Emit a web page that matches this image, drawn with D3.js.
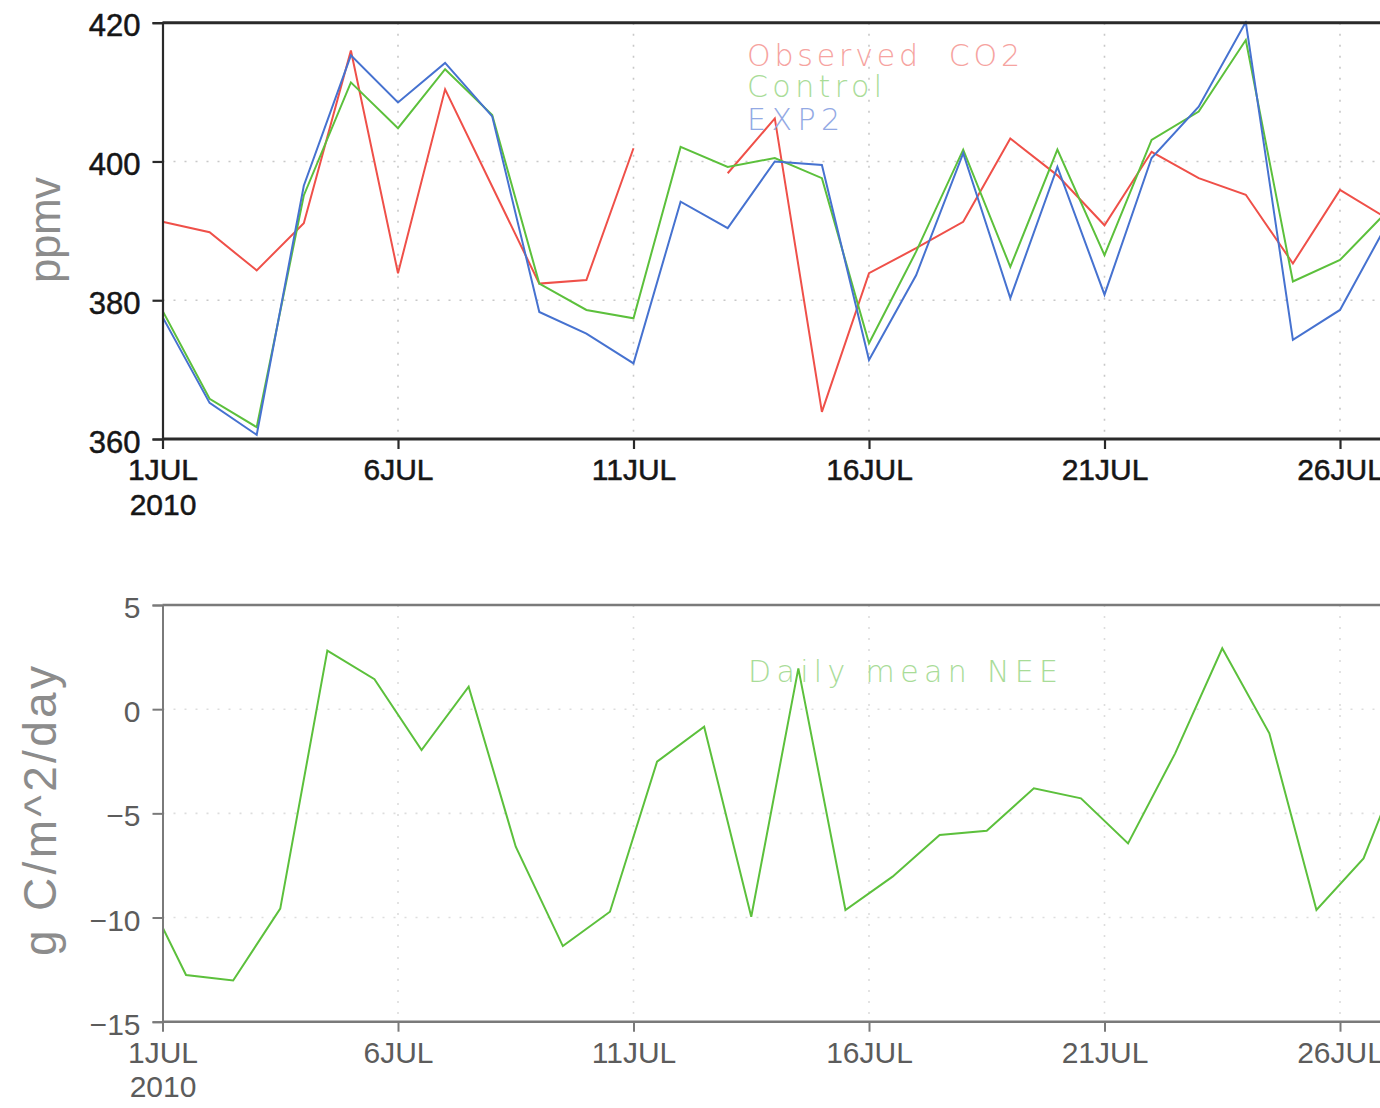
<!DOCTYPE html>
<html>
<head>
<meta charset="utf-8">
<script src="https://cdn.jsdelivr.net/npm/d3@7"></script>
<style>
  html, body { margin: 0; padding: 0; background: #fff; }
  svg { display: block; font-family: "Liberation Sans", Arial, Helvetica, sans-serif; }
</style>
</head>
<body>
<svg id="chart" width="1380" height="1108"></svg>
<script>
// ---------------- data ----------------
const dates = ["2010-07-01","2010-07-02","2010-07-03","2010-07-04","2010-07-05","2010-07-06","2010-07-07",
  "2010-07-08","2010-07-09","2010-07-10","2010-07-11","2010-07-12","2010-07-13","2010-07-14","2010-07-15",
  "2010-07-16","2010-07-17","2010-07-18","2010-07-19","2010-07-20","2010-07-21","2010-07-22","2010-07-23",
  "2010-07-24","2010-07-25","2010-07-26","2010-07-27"];
const observedCO2 = [391.3, 389.8, 384.3, 391.1, 416.0, 383.9, 410.4, 396.4, 382.4, 382.9, 401.9, null, 398.3,
  406.2, 363.9, 383.9, 387.5, 391.3, 403.3, 398.0, 390.8, 401.4, 397.6, 395.2, 385.3, 395.9, 391.8];
const controlCO2 = [378.5, 365.8, 361.7, 395.1, 411.4, 404.8, 413.3, 406.7, 382.4, 378.6, 377.4, 402.1, 399.2,
  400.5, 397.6, 373.8, 387.0, 401.7, 384.8, 401.7, 386.5, 403.1, 407.2, 417.5, 382.7, 385.8, 392.8];
const exp2CO2 = [377.6, 365.2, 360.6, 396.5, 415.3, 408.5, 414.2, 406.5, 378.3, 375.2, 370.9, 394.2, 390.4,
  400.0, 399.5, 371.4, 383.6, 401.2, 380.3, 399.2, 380.8, 400.5, 407.9, 420.1, 374.3, 378.6, 391.0];

const neeTimes = ["2010-07-01T00:00","2010-07-01T12:00","2010-07-02T12:00","2010-07-03T12:00","2010-07-04T12:00",
  "2010-07-05T12:00","2010-07-06T12:00","2010-07-07T12:00","2010-07-08T12:00","2010-07-09T12:00",
  "2010-07-10T12:00","2010-07-11T12:00","2010-07-12T12:00","2010-07-13T12:00","2010-07-14T12:00",
  "2010-07-15T12:00","2010-07-16T12:00","2010-07-17T12:00","2010-07-18T12:00","2010-07-19T12:00",
  "2010-07-20T12:00","2010-07-21T12:00","2010-07-22T12:00","2010-07-23T12:00","2010-07-24T12:00",
  "2010-07-25T12:00","2010-07-26T12:00","2010-07-27T12:00"];
const dailyNEE = [-10.47, -12.76, -13.02, -9.57, 2.81, 1.44, -1.96, 1.08, -6.6, -11.37, -9.72, -2.52, -0.84,
  -9.96, 1.96, -9.64, -8.04, -6.04, -5.84, -3.8, -4.28, -6.44, -2.12, 2.92, -1.16, -9.64, -7.16, -1.5];

const xTickDates = ["2010-07-01","2010-07-06","2010-07-11","2010-07-16","2010-07-21","2010-07-26","2010-07-31"];
const co2Ticks = [360, 380, 400, 420];
const neeTicks = [-15, -10, -5, 0, 5];
const co2Legend = ["Observed  CO2", "Control", "EXP2"];
const neeLegend = "Daily mean NEE";

// ---------------- layout ----------------
const parse = s => new Date(s + (s.length === 10 ? "T00:00Z" : "Z"));
const svg = d3.select("#chart");
svg.append("rect").attr("width", 1380).attr("height", 1108).attr("fill", "#fff");

const x0 = 162.5, dayPx = 47.1;
const x = d3.scaleUtc()
  .domain([parse("2010-07-01"), parse("2010-07-31")])
  .range([x0, x0 + dayPx * 30]);
const xRight = 1400;

const yTop = d3.scaleLinear().domain([360, 420]).range([439, 22.7]);
const yBot = d3.scaleLinear().domain([-15, 5]).range([1021.7, 605]);

const colors = { obs: "#ef5049", ctl: "#5cc03c", exp: "#4672d0" };
const legendColors = ["#f6a3a0", "#a9dc98", "#93a9e4"];
const thinFont = "'DejaVu Sans', 'Liberation Sans', sans-serif";
const mainFont = "'Liberation Sans', Arial, sans-serif";

const dayLabel = d => d.getUTCDate() + "JUL";

function panel(cfg) {
  const g = svg.append("g");
  const [yb, yt] = cfg.y.range();
  // grid
  g.append("g").selectAll("line.hg").data(cfg.grid).join("line")
    .attr("x1", x0).attr("x2", xRight)
    .attr("y1", d => cfg.y(d)).attr("y2", d => cfg.y(d))
    .attr("stroke", cfg.gridColor).attr("stroke-width", 1.6).attr("stroke-dasharray", "2,9");
  g.append("g").selectAll("line.vg").data(xTickDates.slice(1).map(parse)).join("line")
    .attr("x1", d => x(d)).attr("x2", d => x(d))
    .attr("y1", yt).attr("y2", yb)
    .attr("stroke", cfg.gridColor).attr("stroke-width", 1.6).attr("stroke-dasharray", "2,9");

  // clip
  const cid = "clip" + cfg.id;
  svg.append("clipPath").attr("id", cid).append("rect")
    .attr("x", x0).attr("y", yt - 2).attr("width", xRight - x0).attr("height", yb - yt + 4);

  // lines
  const lg = g.append("g").attr("clip-path", `url(#${cid})`);
  cfg.series.forEach(s => {
    const line = d3.line()
      .defined(d => d.v != null)
      .x(d => x(d.t)).y(d => cfg.y(d.v));
    lg.append("path")
      .datum(s.times.map((t, i) => ({ t: parse(t), v: s.values[i] })))
      .attr("d", line).attr("fill", "none")
      .attr("stroke", s.color).attr("stroke-width", 2).attr("stroke-linejoin", "miter");
  });

  // frame
  g.append("line").attr("x1", x0).attr("x2", xRight).attr("y1", yt).attr("y2", yt)
    .attr("stroke", cfg.axisColor).attr("stroke-width", cfg.frameW);
  g.append("line").attr("x1", x0).attr("x2", xRight).attr("y1", yb).attr("y2", yb)
    .attr("stroke", cfg.axisColor).attr("stroke-width", cfg.frameW);

  // y axis
  const ya = d3.axisLeft(cfg.y).tickValues(cfg.ticks).tickSize(10).tickPadding(12)
    .tickFormat(cfg.fmt);
  const yg = g.append("g").attr("transform", `translate(${x0},0)`).call(ya);
  yg.select(".domain").attr("stroke", cfg.axisColor).attr("stroke-width", cfg.axisW);
  yg.selectAll(".tick line").attr("stroke", cfg.axisColor).attr("stroke-width", cfg.axisW);
  yg.selectAll(".tick text").attr("fill", cfg.tickColor).attr("font-size", cfg.tickSize)
    .style("font-family", mainFont).attr("dy", "0.42em")
    .attr("stroke", cfg.tickStroke).attr("stroke-width", cfg.tickStroke === "none" ? 0 : 0.5);

  // x axis
  const xa = d3.axisBottom(x).tickValues(xTickDates.map(parse)).tickSize(10).tickPadding(6)
    .tickFormat(() => "");
  const xg = g.append("g").attr("transform", `translate(0,${yb})`).call(xa);
  xg.select(".domain").remove();
  xg.selectAll(".tick line").attr("stroke", cfg.axisColor).attr("stroke-width", cfg.axisW);
  xg.selectAll(".tick").each(function (d, i) {
    const t = d3.select(this).select("text")
      .attr("fill", cfg.tickColor).attr("font-size", cfg.xTickSize)
      .style("font-family", mainFont)
      .attr("stroke", cfg.tickStroke).attr("stroke-width", cfg.tickStroke === "none" ? 0 : 0.5)
      .attr("y", cfg.xLabelDy).attr("dy", null);
    t.append("tspan").attr("x", 0).text(dayLabel(d));
    if (i === 0) t.append("tspan").attr("x", 0).attr("dy", cfg.xLine2).text(d.getUTCFullYear());
  });

  // y title
  g.append("text")
    .attr("transform", `translate(${cfg.titleX},${cfg.titleY}) rotate(-90)`)
    .attr("text-anchor", "middle").attr("fill", "#8c8c8c")
    .attr("font-size", cfg.titleSize)
    .attr("textLength", cfg.titleLen).attr("lengthAdjust", "spacing")
    .text(cfg.title);

  // legend
  cfg.legend.forEach(L => {
    g.append("text").attr("x", L.x).attr("y", L.y).attr("fill", L.color)
      .style("font-family", thinFont).style("font-weight", 200)
      .attr("font-size", 30).attr("textLength", L.w).attr("lengthAdjust", "spacing")
      .attr("xml:space", "preserve").text(L.text);
  });
}

panel({
  id: "top", y: yTop, ticks: co2Ticks, grid: [380, 400], fmt: d3.format("d"),
  gridColor: "#c8c8c8", axisColor: "#2a2a2a", frameW: 3, axisW: 2.2,
  tickColor: "#161616", tickStroke: "#161616", tickSize: 31, xTickSize: 30,
  xLabelDy: 41, xLine2: 35,
  title: "ppmv", titleX: 60, titleY: 230, titleSize: 44, titleLen: 106,
  series: [
    { times: dates, values: observedCO2, color: colors.obs },
    { times: dates, values: controlCO2, color: colors.ctl },
    { times: dates, values: exp2CO2, color: colors.exp }
  ],
  legend: [
    { text: co2Legend[0], x: 747, y: 66, w: 273, color: legendColors[0] },
    { text: co2Legend[1], x: 747, y: 97, w: 135, color: legendColors[1] },
    { text: co2Legend[2], x: 747, y: 130, w: 93, color: legendColors[2] }
  ]
});

panel({
  id: "bot", y: yBot, ticks: neeTicks, grid: [-10, -5, 0], fmt: d3.format("d"),
  gridColor: "#dddddd", axisColor: "#7a7a7a", frameW: 2.5, axisW: 2,
  tickColor: "#5c5c5c", tickStroke: "none", tickSize: 30, xTickSize: 30,
  xLabelDy: 41, xLine2: 34,
  title: "g C/m^2/day", titleX: 56, titleY: 811, titleSize: 46, titleLen: 290,
  series: [
    { times: neeTimes, values: dailyNEE, color: colors.ctl }
  ],
  legend: [
    { text: neeLegend, x: 748, y: 682, w: 310, color: legendColors[1] }
  ]
});
</script>
</body>
</html>
